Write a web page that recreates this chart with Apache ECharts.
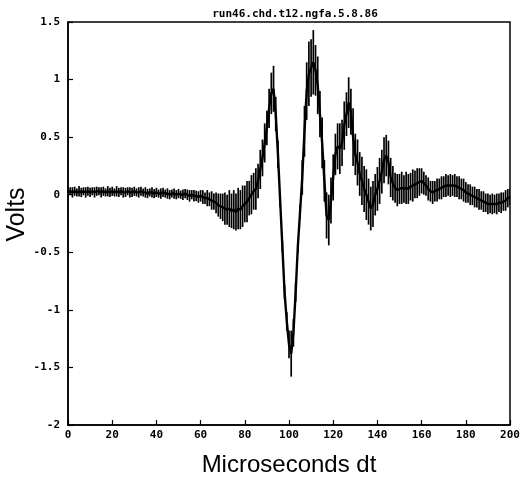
<!DOCTYPE html>
<html>
<head>
<meta charset="utf-8">
<script src="https://cdn.jsdelivr.net/npm/echarts@6/dist/echarts.min.js"></script>
<style>html,body{margin:0;padding:0;background:#fff;}#c{width:524px;height:477px;}</style>
</head>
<body>
<div id="c"></div>
<script>
const titleText = 'run46.chd.t12.ngfa.5.8.86';
const xName = 'Microseconds dt';
const yName = 'Volts';
const tStart = 0, tStep = 1;
// mean voltage at each microsecond (0..200)
const volts = [
 0.02,0.03,0.02,0.03,0.02,0.03,0.02,0.03,0.02,0.03,
 0.02,0.03,0.02,0.03,0.03,0.02,0.03,0.02,0.03,0.02,
 0.03,0.02,0.03,0.02,0.03,0.02,0.02,0.03,0.02,0.02,
 0.03,0.02,0.02,0.03,0.02,0.02,0.01,0.02,0.02,0.01,
 0.02,0.01,0.01,0.02,0.01,0.01,0.00,0.01,0.01,0.00,
 0.01,0.00,0.00,0.01,0.00,-0.01,0.00,-0.01,-0.01,-0.02,
 -0.01,-0.02,-0.03,-0.03,-0.04,-0.05,-0.06,-0.07,-0.09,-0.10,
 -0.11,-0.12,-0.13,-0.12,-0.14,-0.13,-0.15,-0.12,-0.13,-0.10,
 -0.08,-0.06,-0.03,0.00,0.03,0.05,0.12,0.22,0.32,0.45,
 0.58,0.75,0.88,0.92,0.70,0.35,-0.05,-0.45,-0.85,-1.10,
 -1.30,-1.38,-1.20,-0.85,-0.45,-0.15,0.15,0.55,0.90,1.05,
 1.10,1.15,1.08,0.95,0.70,0.45,0.12,-0.18,-0.22,-0.05,
 0.15,0.35,0.42,0.40,0.45,0.60,0.70,0.80,0.72,0.50,
 0.35,0.28,0.18,0.12,0.05,0.00,-0.06,-0.12,-0.08,0.00,
 0.05,0.12,0.20,0.30,0.34,0.28,0.15,0.10,0.06,0.04,
 0.05,0.06,0.05,0.06,0.05,0.07,0.08,0.09,0.10,0.11,
 0.12,0.10,0.08,0.05,0.03,0.02,0.03,0.04,0.05,0.06,
 0.07,0.08,0.08,0.08,0.08,0.08,0.07,0.06,0.05,0.04,
 0.02,0.01,0.00,-0.01,-0.02,-0.03,-0.04,-0.05,-0.06,-0.07,
 -0.08,-0.08,-0.08,-0.08,-0.08,-0.07,-0.07,-0.06,-0.05,-0.03,
 -0.02
];
// half-width of the error bar at each microsecond
const errs = [
 0.04,0.035,0.045,0.04,0.035,0.045,0.04,0.035,0.045,0.04,
 0.04,0.035,0.045,0.04,0.035,0.045,0.04,0.035,0.045,0.04,
 0.04,0.035,0.045,0.04,0.035,0.045,0.04,0.035,0.045,0.04,
 0.04,0.035,0.045,0.04,0.035,0.045,0.04,0.035,0.045,0.04,
 0.04,0.035,0.045,0.04,0.035,0.045,0.04,0.035,0.045,0.04,
 0.04,0.035,0.045,0.04,0.045,0.05,0.04,0.05,0.045,0.05,
 0.05,0.06,0.05,0.07,0.06,0.08,0.07,0.09,0.10,0.11,
 0.12,0.14,0.13,0.16,0.15,0.17,0.16,0.18,0.17,0.18,
 0.16,0.18,0.15,0.17,0.16,0.18,0.15,0.17,0.16,0.17,
 0.15,0.17,0.18,0.20,0.15,0.12,0.06,0.05,0.06,0.08,
 0.12,0.20,0.12,0.08,0.06,0.06,0.15,0.22,0.25,0.28,
 0.25,0.28,0.22,0.25,0.20,0.22,0.18,0.20,0.22,0.20,
 0.20,0.18,0.20,0.22,0.20,0.21,0.19,0.22,0.20,0.25,
 0.18,0.20,0.19,0.21,0.20,0.22,0.20,0.19,0.20,0.18,
 0.19,0.20,0.19,0.20,0.18,0.19,0.17,0.15,0.13,0.14,
 0.13,0.14,0.12,0.14,0.13,0.12,0.14,0.12,0.13,0.12,
 0.11,0.10,0.09,0.10,0.09,0.10,0.09,0.10,0.09,0.10,
 0.09,0.10,0.09,0.10,0.09,0.10,0.09,0.10,0.09,0.10,
 0.09,0.08,0.09,0.08,0.09,0.08,0.09,0.08,0.09,0.08,
 0.09,0.08,0.09,0.08,0.09,0.08,0.09,0.08,0.09,0.08,
 0.07
];
const xTicks = [0,20,40,60,80,100,120,140,160,180,200];
const yTicks = [-2,-1.5,-1,-0.5,0,0.5,1,1.5];

const lineData = volts.map((v,i)=>[tStart + i*tStep, v]);
const barData = volts.map((v,i)=>[tStart + i*tStep, v - errs[i], v + errs[i]]);

const chart = echarts.init(document.getElementById('c'), null, {renderer:'canvas'});
const tickFont = {fontFamily:'DejaVu Sans Mono', fontWeight:'bold', fontSize:11, color:'#000'};
chart.setOption({
  animation:false,
  backgroundColor:'#fff',
  title:{text:titleText, left:290, top:4, textAlign:'center',
    textStyle:{fontFamily:'DejaVu Sans Mono', fontWeight:'bold', fontSize:11, color:'#000'}},
  grid:{left:68, right:14, top:22, bottom:52, containLabel:false, outerBoundsMode:'none',
    show:true, borderColor:'#000', borderWidth:1.5, backgroundColor:'transparent'},
  xAxis:{type:'value', min:0, max:200, interval:20,
    name:xName, nameLocation:'middle', nameGap:28, nameMoveOverlap:false,
    nameTextStyle:{fontFamily:'Liberation Sans', fontSize:24, color:'#000'},
    axisLine:{show:true, onZero:false, lineStyle:{color:'#000', width:1.5}},
    axisTick:{show:true, inside:true, length:5, lineStyle:{color:'#000', width:1.2}},
    axisLabel:Object.assign({margin:5, formatter:v=>String(v)}, tickFont),
    splitLine:{show:false}},
  yAxis:{type:'value', min:-2, max:1.5, interval:0.5,
    name:yName, nameLocation:'middle', nameGap:38, nameRotate:90, nameMoveOverlap:false,
    nameTextStyle:{fontFamily:'Liberation Sans', fontSize:25, color:'#000', padding:[0,0,0,18]},
    axisLine:{show:true, onZero:false, lineStyle:{color:'#000', width:1.5}},
    axisTick:{show:true, inside:true, length:5, lineStyle:{color:'#000', width:1.2}},
    axisLabel:Object.assign({margin:8, formatter:v=>String(v)}, tickFont),
    splitLine:{show:false}},
  series:[
    {type:'custom', data:barData, clip:true,
      renderItem:function(params, api){
        const x = api.value(0);
        const p1 = api.coord([x, api.value(1)]);
        const p2 = api.coord([x, api.value(2)]);
        return {type:'line', shape:{x1:p1[0], y1:p1[1], x2:p2[0], y2:p2[1]},
          style:{stroke:'#000', lineWidth:1.7}};
      },
      encode:{x:0, y:[1,2]}, z:2},
    {type:'line', data:lineData, showSymbol:false, symbol:'none',
      lineStyle:{color:'#000', width:2.4}, z:3}
  ]
});
</script>
</body>
</html>
